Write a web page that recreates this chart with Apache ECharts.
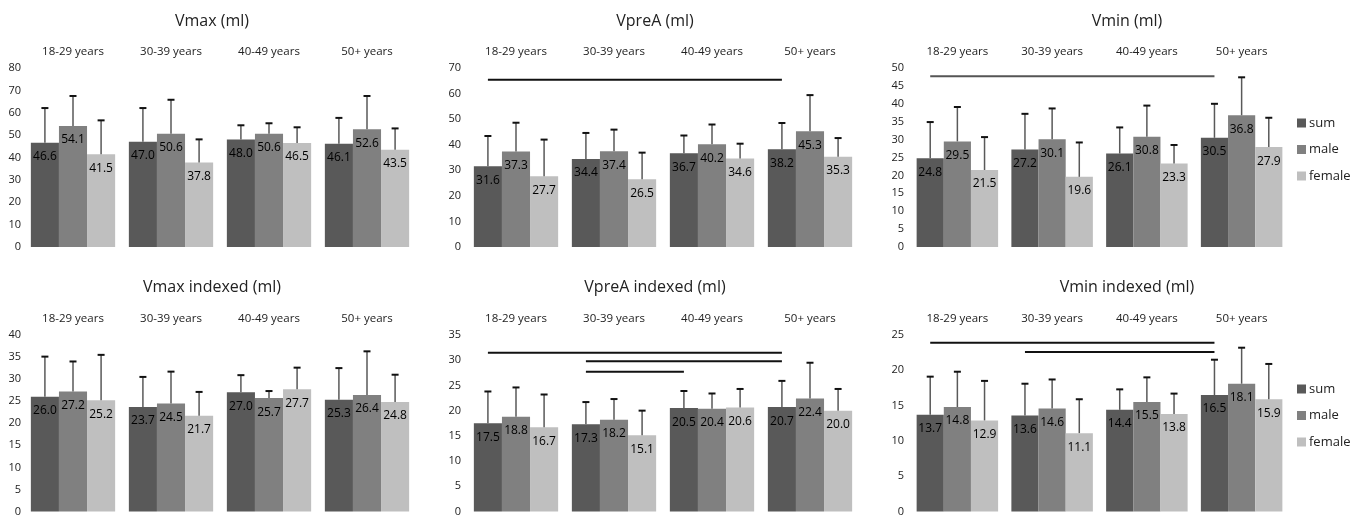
<!DOCTYPE html>
<html>
<head>
<meta charset="utf-8">
<script src="https://cdn.jsdelivr.net/npm/echarts@6/dist/echarts.min.js"></script>
<style>
html,body{margin:0;padding:0;background:#fff;}
#chart{width:1363px;height:517px;}
</style>
</head>
<body>
<div id="chart"></div>
<script>
// ---- Data ----
const ageGroups = ['18-29 years', '30-39 years', '40-49 years', '50+ years'];
const seriesNames = ['sum', 'male', 'female'];

// Vmax (ml)
const vmaxSum = [46.6, 47.0, 48.0, 46.1];
const vmaxMale = [54.1, 50.6, 50.6, 52.6];
const vmaxFemale = [41.5, 37.8, 46.5, 43.5];
const vmaxSumSd = [15.5, 15.1, 6.4, 11.6];
const vmaxMaleSd = [13.4, 15.2, 4.7, 14.9];
const vmaxFemaleSd = [15.1, 10.3, 7.0, 9.5];
const vmaxSig = [];

// VpreA (ml)
const vpreaSum = [31.6, 34.4, 36.7, 38.2];
const vpreaMale = [37.3, 37.4, 40.2, 45.3];
const vpreaFemale = [27.7, 26.5, 34.6, 35.3];
const vpreaSumSd = [11.8, 10.2, 6.9, 10.3];
const vpreaMaleSd = [11.3, 8.5, 7.7, 14.1];
const vpreaFemaleSd = [14.3, 10.4, 5.8, 7.3];
const vpreaSig = [[0, 3, 65.4]];

// Vmin (ml)
const vminSum = [24.8, 27.2, 26.1, 30.5];
const vminMale = [29.5, 30.1, 30.8, 36.8];
const vminFemale = [21.5, 19.6, 23.3, 27.9];
const vminSumSd = [10.1, 10.0, 7.3, 9.5];
const vminMaleSd = [9.6, 8.6, 8.7, 10.6];
const vminFemaleSd = [9.2, 9.6, 5.2, 8.2];
const vminSig = [[0, 3, 47.7]];

// Vmax indexed (ml)
const vmaxIdxSum = [26.0, 23.7, 27.0, 25.3];
const vmaxIdxMale = [27.2, 24.5, 25.7, 26.4];
const vmaxIdxFemale = [25.2, 21.7, 27.7, 24.8];
const vmaxIdxSumSd = [9.1, 6.8, 3.9, 7.2];
const vmaxIdxMaleSd = [6.8, 7.2, 1.6, 9.9];
const vmaxIdxFemaleSd = [10.3, 5.4, 4.9, 6.2];
const vmaxIdxSig = [];

// VpreA indexed (ml)
const vpreaIdxSum = [17.5, 17.3, 20.5, 20.7];
const vpreaIdxMale = [18.8, 18.2, 20.4, 22.4];
const vpreaIdxFemale = [16.7, 15.1, 20.6, 20.0];
const vpreaIdxSumSd = [6.3, 4.4, 3.4, 5.2];
const vpreaIdxMaleSd = [5.8, 4.1, 3.0, 7.1];
const vpreaIdxFemaleSd = [6.5, 4.9, 3.7, 4.3];
const vpreaIdxSig = [[0, 3, 31.5], [1, 3, 29.8], [1, 2, 27.7]];

// Vmin indexed (ml)
const vminIdxSum = [13.7, 13.6, 14.4, 16.5];
const vminIdxMale = [14.8, 14.6, 15.5, 18.1];
const vminIdxFemale = [12.9, 11.1, 13.8, 15.9];
const vminIdxSumSd = [5.4, 4.5, 2.9, 5.0];
const vminIdxMaleSd = [5.0, 4.1, 3.5, 5.1];
const vminIdxFemaleSd = [5.6, 4.8, 2.9, 5.0];
const vminIdxSig = [[0, 3, 23.9], [1, 3, 22.6]];

// Axis ranges
const yMax = [80, 70, 50, 40, 35, 25];
const yInterval = [10, 10, 5, 5, 5, 5];
const titles = ['Vmax (ml)', 'VpreA (ml)', 'Vmin (ml)', 'Vmax indexed (ml)', 'VpreA indexed (ml)', 'Vmin indexed (ml)'];

// ---- Build ----
const panelMeans = [
  [vmaxSum, vmaxMale, vmaxFemale],
  [vpreaSum, vpreaMale, vpreaFemale],
  [vminSum, vminMale, vminFemale],
  [vmaxIdxSum, vmaxIdxMale, vmaxIdxFemale],
  [vpreaIdxSum, vpreaIdxMale, vpreaIdxFemale],
  [vminIdxSum, vminIdxMale, vminIdxFemale]
];
const panelSds = [
  [vmaxSumSd, vmaxMaleSd, vmaxFemaleSd],
  [vpreaSumSd, vpreaMaleSd, vpreaFemaleSd],
  [vminSumSd, vminMaleSd, vminFemaleSd],
  [vmaxIdxSumSd, vmaxIdxMaleSd, vmaxIdxFemaleSd],
  [vpreaIdxSumSd, vpreaIdxMaleSd, vpreaIdxFemaleSd],
  [vminIdxSumSd, vminIdxMaleSd, vminIdxFemaleSd]
];
const panelSig = [vmaxSig, vpreaSig, vminSig, vmaxIdxSig, vpreaIdxSig, vminIdxSig];

const colors = ['#595959', '#808080', '#bfbfbf'];
const GAP = 0.14;
const colLayout = [{left: 24, width: 392, titleX: 212, labelMargin: 3},
                   {left: 467, width: 392, titleX: 655, labelMargin: 6},
                   {left: 910, width: 379, titleX: 1127, labelMargin: 6}];
const rowLayout = [{top: 68, height: 179, titleTop: 13},
                   {top: 335, height: 179, titleTop: 279}];
const sigColors = ['#111', '#111', '#555', '#111', '#111', '#111'];

const grid = [], xAxis = [], yAxis = [], series = [], title = [];

function errRender(params, api) {
  const cat = api.value(0), s = api.value(1), mean = api.value(2), sd = api.value(3);
  const base = api.coord([cat, mean]);
  const top = api.coord([cat, mean + sd]);
  const band = api.size([1, 0])[0];
  const bw = band * (1 - GAP) / 3;
  const x = base[0] + (s - 1) * bw;
  return {
    type: 'group',
    children: [
      {type: 'line', shape: {x1: x, y1: base[1], x2: x, y2: top[1]}, style: {stroke: '#595959', lineWidth: 1.5}},
      {type: 'line', shape: {x1: x - 3.5, y1: top[1], x2: x + 3.5, y2: top[1]}, style: {stroke: '#111', lineWidth: 2}}
    ]
  };
}

function sigRenderFactory(color) {
  return function (params, api) {
    const a = api.value(0), b = api.value(1), y = api.value(2);
    const band = api.size([1, 0])[0];
    const bw = band * (1 - GAP) / 3;
    const p1 = api.coord([a, y]);
    const p2 = api.coord([b, y]);
    return {
      type: 'line',
      shape: {x1: p1[0] - bw, y1: p1[1], x2: p2[0] - bw, y2: p2[1]},
      style: {stroke: color, lineWidth: 2}
    };
  };
}

for (let p = 0; p < 6; p++) {
  const c = colLayout[p % 3], r = rowLayout[Math.floor(p / 3)];
  grid.push({left: c.left, width: c.width, top: r.top, height: r.height, containLabel: false});
  title.push({
    text: titles[p], left: c.titleX, top: r.titleTop, textAlign: 'center', padding: 0,
    textStyle: {fontFamily: 'Open Sans', fontSize: 16, fontWeight: 'normal', color: '#222'}
  });
  xAxis.push({
    type: 'category', gridIndex: p, position: 'top', data: ageGroups,
    axisLine: {show: false}, axisTick: {show: false},
    axisLabel: {margin: 10, fontSize: 11.5, color: '#222', fontFamily: 'Open Sans'}
  });
  yAxis.push({
    type: 'value', gridIndex: p, min: 0, max: yMax[p], interval: yInterval[p],
    axisLine: {show: false}, axisTick: {show: false}, splitLine: {show: false},
    axisLabel: {margin: c.labelMargin, fontSize: 11, color: '#222', fontFamily: 'Open Sans'}
  });
  for (let s = 0; s < 3; s++) {
    series.push({
      type: 'bar', name: seriesNames[s], xAxisIndex: p, yAxisIndex: p,
      data: panelMeans[p][s], barGap: '0%', barCategoryGap: (GAP * 100) + '%',
      itemStyle: {color: colors[s]},
      label: {
        show: true, position: 'insideTop', distance: 8, color: '#000',
        fontSize: 12, fontFamily: 'Open Sans',
        formatter: (d) => Number(d.value).toFixed(1)
      },
      silent: true
    });
  }
  const errData = [];
  for (let s = 0; s < 3; s++) {
    for (let i = 0; i < ageGroups.length; i++) {
      errData.push([i, s, panelMeans[p][s][i], panelSds[p][s][i]]);
    }
  }
  series.push({
    type: 'custom', xAxisIndex: p, yAxisIndex: p, renderItem: errRender,
    data: errData, encode: {x: 0, y: 2}, z: 5, silent: true
  });
  if (panelSig[p].length) {
    series.push({
      type: 'custom', xAxisIndex: p, yAxisIndex: p, renderItem: sigRenderFactory(sigColors[p]),
      data: panelSig[p], encode: {x: 0, y: 2}, z: 5, silent: true
    });
  }
}

const legendBase = {
  orient: 'vertical', left: 1297, padding: 0, itemWidth: 9, itemHeight: 9, itemGap: 12.5,
  icon: 'rect', data: seriesNames, selectedMode: false,
  textStyle: {fontSize: 13, lineHeight: 14, color: '#222', fontFamily: 'Open Sans', padding: [0, 0, 0, -2]}
};

const chart = echarts.init(document.getElementById('chart'), null, {renderer: 'canvas'});
chart.setOption({
  animation: false,
  textStyle: {fontFamily: 'Open Sans'},
  title: title,
  legend: [Object.assign({}, legendBase, {top: 116}), Object.assign({}, legendBase, {top: 382})],
  grid: grid,
  xAxis: xAxis,
  yAxis: yAxis,
  series: series
});
</script>
</body>
</html>
